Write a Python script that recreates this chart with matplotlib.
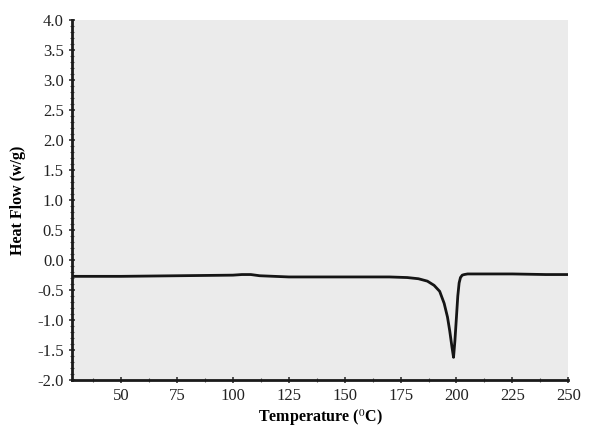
import matplotlib
matplotlib.use('Agg')
import matplotlib.pyplot as plt
from matplotlib.ticker import MultipleLocator

# DSC curve
temperature = [28, 40, 50, 75, 100, 104, 108, 112, 125, 150, 170, 178, 183, 187, 190,
               192.5, 194.5, 196, 197, 198, 198.7, 199.3, 200, 200.6, 201.2, 201.8,
               202.6, 203.5, 205, 215, 225, 240, 250]
heat_flow = [-0.27, -0.27, -0.27, -0.26, -0.25, -0.24, -0.24, -0.26, -0.28, -0.28, -0.28,
             -0.29, -0.31, -0.35, -0.42, -0.52, -0.72, -0.95, -1.18, -1.45, -1.62,
             -1.35, -0.95, -0.6, -0.38, -0.29, -0.25, -0.24, -0.23, -0.23, -0.23, -0.24, -0.24]

x_ticks = [50, 75, 100, 125, 150, 175, 200, 225, 250]
y_ticks = [-2.0, -1.5, -1.0, -0.5, 0.0, 0.5, 1.0, 1.5, 2.0, 2.5, 3.0, 3.5, 4.0]

plt.rcParams['font.family'] = ['Liberation Serif', 'DejaVu Serif']
plt.rcParams['mathtext.fontset'] = 'stix'

fig = plt.figure(figsize=(6, 4.3), dpi=100, facecolor='white')
ax = fig.add_axes([0.12, 0.116, 0.827, 0.837])
ax.set_facecolor('#ebebeb')

ax.plot(temperature, heat_flow, color='#151515', linewidth=2.0)

ax.set_xlim(28, 250)
ax.set_ylim(-2.0, 4.0)
ax.set_xticks(x_ticks)
ax.set_yticks(y_ticks)
ax.set_yticklabels([f'{v:.1f}' for v in y_ticks])
ax.xaxis.set_minor_locator(MultipleLocator(12.5))
ax.yaxis.set_minor_locator(MultipleLocator(0.1))
ax.tick_params(axis='both', which='major', direction='inout', length=5, width=1.2,
               labelsize=12, color='#333333', labelcolor='#222222')
ax.tick_params(axis='both', which='minor', direction='inout', length=3, width=0.8,
               color='#555555')

for side in ['top', 'right']:
    ax.spines[side].set_visible(False)
for side in ['left', 'bottom']:
    ax.spines[side].set_linewidth(2.0)
    ax.spines[side].set_color('#1a1a1a')

ax.set_xlabel(r'Temperature ($^{0}$C)', fontsize=11.5, fontweight='bold', labelpad=2)
ax.set_ylabel('Heat Flow (w/g)', fontsize=11.5, fontweight='bold', labelpad=8)

fig.savefig('out.png', dpi=100)
